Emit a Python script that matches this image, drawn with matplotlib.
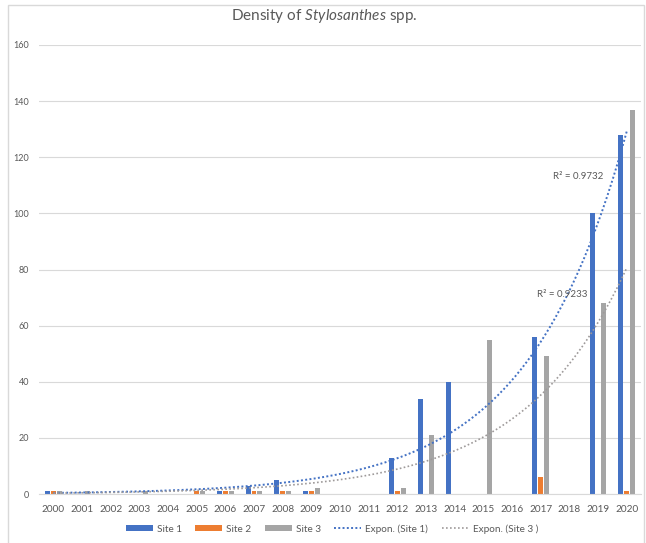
import numpy as np
import matplotlib
matplotlib.use("Agg")
import matplotlib.pyplot as plt
from matplotlib.patches import Rectangle

plt.rcParams['font.family'] = ['Lato', 'DejaVu Sans']
plt.rcParams['mathtext.fontset'] = 'custom'
plt.rcParams['mathtext.rm'] = 'Lato'
plt.rcParams['mathtext.it'] = 'Lato:italic'

years = [str(y) for y in range(2000, 2021)]
site1 = [1, 0, 0, 0, 0, 0, 1, 3, 5, 1, 0, 0, 13, 34, 40, 0, 0, 56, 0, 100, 128]
site2 = [1, 0, 0, 0, 0, 1, 1, 1, 1, 1, 0, 0, 1, 0, 0, 0, 0, 6, 0, 0, 1]
site3 = [1, 1, 0, 1, 0, 1, 1, 1, 1, 2, 0, 0, 2, 21, 0, 55, 0, 49, 0, 68, 137]
r2_labels = ["R² = 0.9732", "R² = 0.9233"]

c1, c2, c3 = '#4472C4', '#ED7D31', '#A5A5A5'
txt = '#595959'

fig = plt.figure(figsize=(6.46, 5.43), dpi=100)
ax = fig.add_axes([39/646, 49/543, 602/646, 449/543])

x = np.arange(len(years))
w = 0.17
b1 = ax.bar(x - 0.2, site1, w, color=c1, label='Site 1', zorder=2)
b2 = ax.bar(x, site2, w, color=c2, label='Site 2', zorder=2)
b3 = ax.bar(x + 0.2, site3, w, color=c3, label='Site 3', zorder=2)


def expfit(vals):
    v = np.array(vals, float)
    xi = np.arange(1, len(v) + 1)
    m = v > 0
    b, a = np.polyfit(xi[m], np.log(v[m]), 1)
    return a, b


xs = np.linspace(0, 20, 300)
a1, k1 = expfit(site1)
a3, k3 = expfit(site3)
l1, = ax.plot(xs, np.exp(a1 + k1 * (xs + 1)), color=c1, lw=1.4, ls=(0, (1, 1.2)),
              label='Expon. (Site 1)', zorder=3)
l3, = ax.plot(xs, np.exp(a3 + k3 * (xs + 1)), color='#9E9A9A', lw=1.2, ls=(0, (1, 1.4)),
              label='Expon. (Site 3 )', zorder=3)

ax.text(18.3, 113, r2_labels[0], fontsize=7, color=txt, ha='center', va='center')
ax.text(17.74, 71, r2_labels[1], fontsize=7, color=txt, ha='center', va='center')

ax.set_xlim(-0.5, 20.5)
ax.set_ylim(0, 160)
ax.set_yticks(range(0, 161, 20))
ax.set_xticks(x)
ax.set_xticklabels(years)
ax.tick_params(axis='both', length=0, colors=txt)
ax.tick_params(axis='y', pad=7, labelsize=6.5)
ax.tick_params(axis='x', pad=8, labelsize=7.2)
ax.grid(axis='y', color='#D9D9D9', lw=0.8, zorder=0)
ax.set_axisbelow(True)
for s in ['top', 'right', 'left']:
    ax.spines[s].set_visible(False)
ax.spines['bottom'].set_color('#D9D9D9')
ax.spines['bottom'].set_linewidth(0.8)

fig.text(324/646, 1 - 16/543, r"Density of $\mathit{Stylosanthes}$ spp.",
         fontsize=11, color=txt, ha='center', va='center')

fig.legend([b1, b2, b3, l1, l3],
           ['Site 1', 'Site 2', 'Site 3', 'Expon. (Site 1)', 'Expon. (Site 3 )'],
           loc='center', bbox_to_anchor=(332/646, 14/543), ncol=5, frameon=False,
           fontsize=7.2, labelcolor=txt, handlelength=2.7, handleheight=0.6,
           handletextpad=0.4, columnspacing=1.35)

fig.patches.append(Rectangle((8/646, -0.05), 636/646, 1.05 - 5/543,
                             transform=fig.transFigure, fill=False,
                             edgecolor='#D9D9D9', lw=1))

fig.savefig('out.png', dpi=100)
